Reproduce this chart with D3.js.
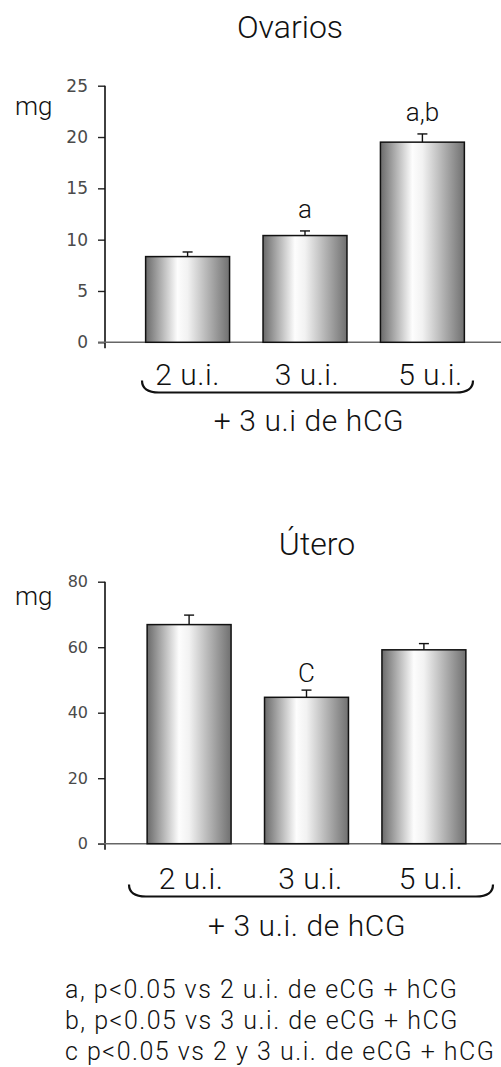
<!DOCTYPE html>
<html>
<head>
<meta charset="utf-8">
<script src="https://cdn.jsdelivr.net/npm/d3@7"></script>
<style>
  body { margin: 0; background: #fff; }
  svg text { font-family: Roboto, "Liberation Sans", sans-serif; font-weight: 300; fill: #111; }
  svg .tick text { font-family: "DejaVu Sans", sans-serif; font-weight: normal; fill: #4a4a4a; }
</style>
</head>
<body>
<svg id="chart" width="501" height="1067"></svg>
<script>
// categories (eCG dose), shared by both panels
const doses = ["2 u.i.", "3 u.i.", "5 u.i."];

// Ovarios (mg)
const ovaryMean = [8.35, 10.4, 19.5];
const ovaryErr = [0.45, 0.45, 0.8];
const ovaryMarks = ["", "a", "a,b"];
const ovaryTicks = [0, 5, 10, 15, 20, 25];

// Útero (mg)
const uterusMean = [66.9, 44.7, 59.2];
const uterusErr = [2.9, 2.2, 1.9];
const uterusMarks = ["", "C", ""];
const uterusTicks = [0, 20, 40, 60, 80];

const notes = [
  "a, p<0.05 vs 2 u.i. de eCG + hCG",
  "b, p<0.05 vs 3 u.i. de eCG + hCG",
  "c p<0.05 vs 2 y 3 u.i. de eCG + hCG"
];

const svg = d3.select("#chart");

// metallic bar fill
const grad = svg.append("defs").append("linearGradient")
  .attr("id", "barFill")
  .attr("x1", "0%").attr("x2", "100%").attr("y1", "0%").attr("y2", "0%");
[[0, "#6a6a6a"], [0.38, "#fdfdfd"], [0.5, "#f2f2f2"], [1, "#707070"]].forEach(([o, c]) => {
  grad.append("stop").attr("offset", o).attr("stop-color", c);
});

function drawPanel(opt) {
  const g = svg.append("g");

  const x = d3.scaleBand()
    .domain(doses)
    .range(opt.xRange)
    .paddingInner(0.285)
    .paddingOuter(0.329);

  const y = d3.scaleLinear()
    .domain([0, d3.max(opt.ticks)])
    .range([opt.y0, opt.yTop]);

  // title
  g.append("text")
    .attr("x", opt.titleX)
    .attr("y", opt.titleY)
    .attr("text-anchor", "middle")
    .style("font-size", "32px")
    .text(opt.title);

  // y unit
  g.append("text")
    .attr("x", 15)
    .attr("y", opt.mgY)
    .style("font-size", "26px")
    .text("mg");

  // y axis
  const yAxis = g.append("g")
    .attr("transform", `translate(${opt.axisX},0)`)
    .call(d3.axisLeft(y).tickValues(opt.ticks).tickSize(7).tickPadding(10).tickSizeOuter(0));
  yAxis.select(".domain").remove();
  yAxis.attr("font-size", null).attr("font-family", null);
  yAxis.selectAll(".tick line").attr("stroke", "#222").attr("stroke-width", 1.4);
  yAxis.selectAll(".tick text").style("font-size", opt.tickFont);

  g.append("line")
    .attr("x1", opt.axisX).attr("x2", opt.axisX)
    .attr("y1", y(d3.max(opt.ticks))).attr("y2", opt.y0 + 6)
    .attr("stroke", "#111").attr("stroke-width", 1.6);

  // x baseline
  g.append("line")
    .attr("x1", opt.axisX - 7).attr("x2", 501)
    .attr("y1", opt.y0).attr("y2", opt.y0)
    .attr("stroke", "#666").attr("stroke-width", 1.6);

  const rows = doses.map((d, i) => ({ dose: d, mean: opt.mean[i], err: opt.err[i], mark: opt.marks[i] }));

  // error bars (drawn first, bar covers lower half)
  const eb = g.selectAll(".err").data(rows).enter().append("g").attr("class", "err");
  eb.append("line")
    .attr("x1", d => x(d.dose) + x.bandwidth() / 2)
    .attr("x2", d => x(d.dose) + x.bandwidth() / 2)
    .attr("y1", d => y(d.mean))
    .attr("y2", d => y(d.mean + d.err))
    .attr("stroke", "#111").attr("stroke-width", 1.4);
  eb.append("line")
    .attr("x1", d => x(d.dose) + x.bandwidth() / 2 - 5)
    .attr("x2", d => x(d.dose) + x.bandwidth() / 2 + 5)
    .attr("y1", d => y(d.mean + d.err))
    .attr("y2", d => y(d.mean + d.err))
    .attr("stroke", "#111").attr("stroke-width", 1.4);

  // bars
  g.selectAll(".bar").data(rows).enter().append("rect")
    .attr("class", "bar")
    .attr("x", d => x(d.dose))
    .attr("y", d => y(d.mean))
    .attr("width", x.bandwidth())
    .attr("height", d => y(0) - y(d.mean))
    .attr("fill", "url(#barFill)")
    .attr("stroke", "#111")
    .attr("stroke-width", 1.5);

  // significance letters
  g.selectAll(".mark").data(rows.filter(d => d.mark)).enter().append("text")
    .attr("class", "mark")
    .attr("x", d => x(d.dose) + x.bandwidth() / 2)
    .attr("y", d => y(d.mean + d.err) - opt.markGap)
    .attr("text-anchor", "middle")
    .style("font-size", "26px")
    .text(d => d.mark);

  // dose labels under bars
  g.selectAll(".dose").data(rows).enter().append("text")
    .attr("class", "dose")
    .attr("x", (d, i) => x(d.dose) + x.bandwidth() / 2 + opt.labelShift[i])
    .attr("y", opt.labelY)
    .attr("text-anchor", "middle")
    .style("font-size", "30px")
    .style("letter-spacing", "0.5px")
    .text(d => d.dose);

  // brace under labels
  const [bx0, bx1] = opt.brace;
  const by = opt.braceY, r = 11, h = 12;
  g.append("path")
    .attr("d", `M${bx0},${by - h} Q${bx0},${by} ${bx0 + r + 6},${by} L${bx1 - r - 6},${by} Q${bx1},${by} ${bx1},${by - h}`)
    .attr("fill", "none")
    .attr("stroke", "#111")
    .attr("stroke-width", 2.2);

  g.append("text")
    .attr("x", opt.subX)
    .attr("y", opt.subY)
    .attr("text-anchor", "middle")
    .style("font-size", "30px")
    .style("letter-spacing", "0.6px")
    .text(opt.sub);
}

drawPanel({
  title: "Ovarios", titleX: 290, titleY: 38,
  mgY: 115,
  mean: ovaryMean, err: ovaryErr, marks: ovaryMarks, ticks: ovaryTicks,
  axisX: 105, y0: 342.3, yTop: 85.7, xRange: [107, 503], tickFont: "17px",
  markGap: 13,
  labelY: 385, labelShift: [0, 2, 8],
  brace: [142, 473], braceY: 392.5,
  sub: "+ 3 u.i de hCG", subX: 309, subY: 431
});

drawPanel({
  title: "Útero", titleX: 317, titleY: 555,
  mgY: 605,
  mean: uterusMean, err: uterusErr, marks: uterusMarks, ticks: uterusTicks,
  axisX: 105, y0: 843.7, yTop: 581.7, xRange: [108.5, 504.5], tickFont: "16px",
  markGap: 8,
  labelY: 889, labelShift: [2, 4, 7],
  brace: [129, 493], braceY: 896.5,
  sub: "+ 3 u.i. de hCG", subX: 307, subY: 936
});

// footnotes
svg.selectAll(".note").data(notes).enter().append("text")
  .attr("class", "note")
  .attr("x", 65)
  .attr("y", (d, i) => 998 + i * 31)
  .style("font-size", "25px")
  .style("letter-spacing", "1.5px")
  .text(d => d);
</script>
</body>
</html>
